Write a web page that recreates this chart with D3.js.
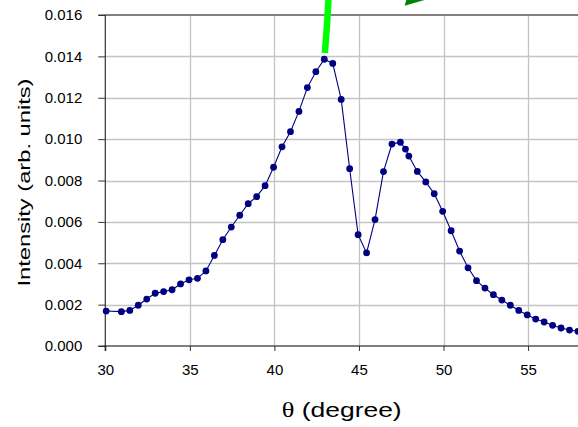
<!DOCTYPE html>
<html>
<head>
<meta charset="utf-8">
<script src="https://cdn.jsdelivr.net/npm/d3@7"></script>
<style>
  html, body { margin: 0; padding: 0; background: #fff; }
  svg { display: block; }
</style>
</head>
<body>
<svg id="chart" width="578" height="427"></svg>
<script>
// Diffraction angle (degrees) and measured intensity
const theta = [30.05, 30.95, 31.45, 31.95, 32.45, 32.95, 33.45, 33.95, 34.45, 34.95,
  35.45, 35.95, 36.45, 36.95, 37.45, 37.95, 38.45, 38.95, 39.45, 39.95,
  40.45, 40.95, 41.45, 41.95, 42.45, 42.95, 43.45, 43.95, 44.45, 44.95,
  45.45, 45.95, 46.45, 46.95, 47.45, 47.75, 47.95, 48.45, 48.95, 49.45,
  49.95, 50.45, 50.95, 51.45, 51.95, 52.45, 52.95, 53.45, 53.95, 54.45,
  54.95, 55.45, 55.95, 56.45, 56.95, 57.45, 57.95];
const intensity = [0.00169, 0.00166, 0.00172, 0.00197, 0.00227, 0.00255, 0.00263, 0.00272, 0.00300, 0.00320,
  0.00327, 0.00363, 0.00438, 0.00514, 0.00575, 0.00632, 0.00688, 0.00722, 0.00775, 0.00864,
  0.00963, 0.01036, 0.01134, 0.01249, 0.01326, 0.01386, 0.01366, 0.01192, 0.00857, 0.00538,
  0.00450, 0.00611, 0.00843, 0.00976, 0.00985, 0.00952, 0.00918, 0.00844, 0.00793, 0.00736,
  0.00651, 0.00557, 0.00459, 0.00378, 0.00316, 0.00280, 0.00248, 0.00222, 0.00197, 0.00172,
  0.00150, 0.00130, 0.00116, 0.00100, 0.00087, 0.00077, 0.00071];
const xTicks = [30, 35, 40, 45, 50, 55];
const yTicks = [0, 0.002, 0.004, 0.006, 0.008, 0.010, 0.012, 0.014, 0.016];

// Annotation arrows in data units
const arrowShaft = [[42.98, 0.01416], [43.12, 0.01550], [43.25, 0.01760]];
const arrowHead = [[47.70, 0.01645], [47.82, 0.01677], [49.40, 0.01685]];

const svg = d3.select("#chart");
const x = d3.scaleLinear().domain([30, 58]).range([105.3, 578.8]);
const y = d3.scaleLinear().domain([0, 0.016]).range([346, 15]);

// Gridlines
svg.append("g").selectAll("line.h")
  .data(yTicks.filter(v => v > 0 && v < 0.016))
  .join("line")
  .attr("x1", x(30)).attr("x2", 578)
  .attr("y1", d => Math.round(y(d)) + 0.5).attr("y2", d => Math.round(y(d)) + 0.5)
  .attr("stroke", "#c4c4c4").attr("stroke-width", 1.3);
svg.append("g").selectAll("line.v")
  .data(xTicks.filter(v => v > 30))
  .join("line")
  .attr("x1", d => Math.round(x(d)) + 0.5).attr("x2", d => Math.round(x(d)) + 0.5)
  .attr("y1", y(0.016)).attr("y2", y(0))
  .attr("stroke", "#c4c4c4").attr("stroke-width", 1.3);

// Top frame line
svg.append("line")
  .attr("x1", x(30)).attr("x2", 578)
  .attr("y1", y(0.016)).attr("y2", y(0.016))
  .attr("stroke", "#808080").attr("stroke-width", 2);

// Axes
const fmt = d3.format(".3f");
const yAxis = svg.append("g")
  .attr("transform", `translate(${x(30)},0)`)
  .call(d3.axisLeft(y).tickValues(yTicks).tickFormat(fmt).tickSize(7).tickPadding(16));
const xAxis = svg.append("g")
  .attr("transform", `translate(0,${y(0)})`)
  .call(d3.axisBottom(x).tickValues(xTicks).tickSize(5).tickPadding(13));
[yAxis, xAxis].forEach(g => {
  g.select(".domain").attr("stroke", "#222").attr("stroke-width", 1.2);
  g.selectAll(".tick line").attr("stroke", "#333");
  g.selectAll("text")
    .attr("fill", "#000")
    .style("font-family", "'Liberation Sans', Arial, sans-serif")
    .style("font-size", "15px");
});
yAxis.select(".domain").attr("d", `M-7,${y(0.016)}H0V${y(0)}H-7`).attr("stroke", "#333");
xAxis.select(".domain").attr("d", `M${x(30)},5V0H578`).attr("stroke", "#000");

// Series line and markers
const pts = theta.map((t, i) => [t, intensity[i]]);
svg.append("path")
  .datum(pts)
  .attr("fill", "none")
  .attr("stroke", "#000080")
  .attr("stroke-width", 1.1)
  .attr("d", d3.line().x(d => x(d[0])).y(d => y(d[1])));
svg.append("g").selectAll("circle")
  .data(pts)
  .join("circle")
  .attr("cx", d => x(d[0]))
  .attr("cy", d => y(d[1]))
  .attr("r", 3.4)
  .attr("fill", "#000080");

// Arrows pointing at the main peak
svg.append("path")
  .datum(arrowShaft)
  .attr("fill", "none")
  .attr("stroke", "#00ff00")
  .attr("stroke-width", 6.5)
  .attr("d", d3.line().curve(d3.curveBasis).x(d => x(d[0])).y(d => y(d[1])));
svg.append("path")
  .attr("fill", "#008000")
  .attr("d", d3.line().x(d => x(d[0])).y(d => y(d[1]))(arrowHead) + "Z");

// Axis titles
const xTitle = svg.append("text")
  .attr("x", 341.7).attr("y", 416.5)
  .attr("text-anchor", "middle")
  .attr("textLength", 120).attr("lengthAdjust", "spacingAndGlyphs")
  .style("font-family", "'Liberation Sans', Arial, sans-serif")
  .style("font-size", "21px");
xTitle.append("tspan").style("font-family", "'Liberation Serif', 'Times New Roman', serif").text("θ");
xTitle.append("tspan").text(" (degree)");
svg.append("text")
  .attr("transform", "translate(30,182.5) rotate(-90)")
  .attr("text-anchor", "middle")
  .attr("textLength", 208).attr("lengthAdjust", "spacingAndGlyphs")
  .style("font-family", "'Liberation Sans', Arial, sans-serif")
  .style("font-size", "17px")
  .text("Intensity (arb. units)");
</script>
</body>
</html>
